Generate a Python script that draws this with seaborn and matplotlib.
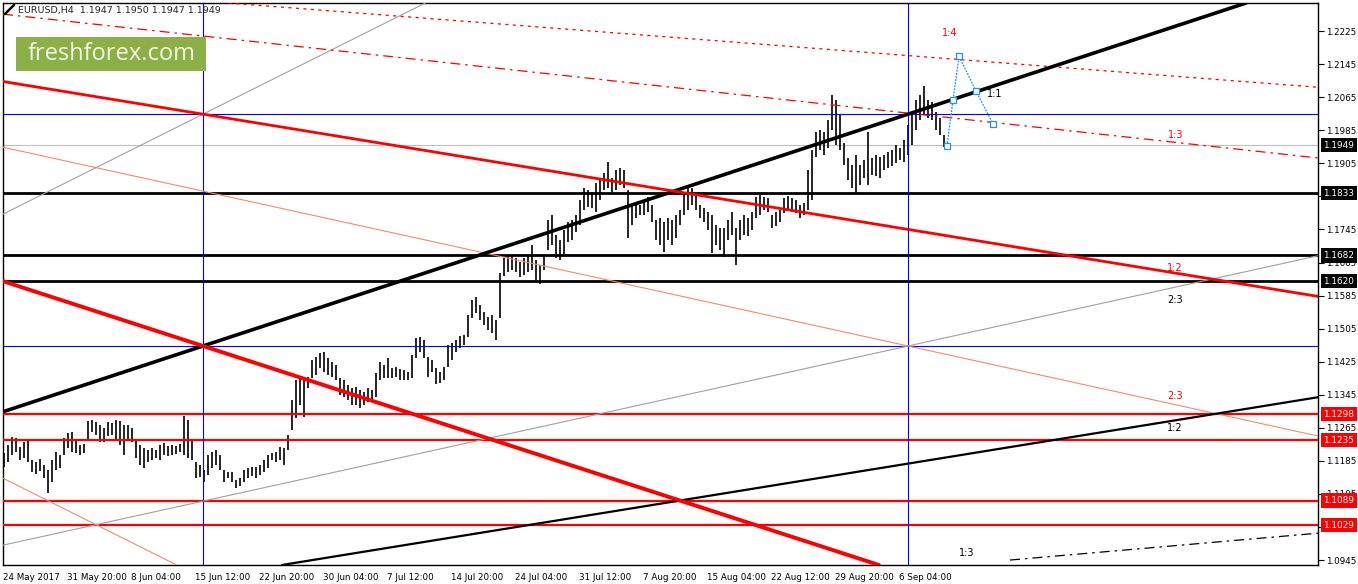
import numpy as np
import pandas as pd
import seaborn as sns
import matplotlib.pyplot as plt
import matplotlib.transforms as mtransforms
from matplotlib.patches import Rectangle
from matplotlib.lines import Line2D

# EURUSD H4, je zwei Kerzen zu einem Balken zusammengefasst
high = [
    1.1204, 1.1223, 1.1242, 1.1240, 1.1218, 1.1230, 1.1235, 1.1187, 1.1182, 1.1189,
    1.1175, 1.1163, 1.1187, 1.1206, 1.1199, 1.1240, 1.1252, 1.1255, 1.1235, 1.1223,
    1.1226, 1.1281, 1.1284, 1.1279, 1.1272, 1.1264, 1.1279, 1.1276, 1.1284, 1.1281,
    1.1272, 1.1272, 1.1264, 1.1235, 1.1223, 1.1216, 1.1211, 1.1216, 1.1211, 1.1223,
    1.1228, 1.1221, 1.1223, 1.1221, 1.1226, 1.1293, 1.1284, 1.1235, 1.1182, 1.1175,
    1.1163, 1.1199, 1.1206, 1.1211, 1.1199, 1.1163, 1.1158, 1.1158, 1.1138, 1.1143,
    1.1163, 1.1167, 1.1170, 1.1170, 1.1175, 1.1187, 1.1199, 1.1204, 1.1206, 1.1218,
    1.1216, 1.1247, 1.1332, 1.1380, 1.1388, 1.1388, 1.1388, 1.1429, 1.1436, 1.1446,
    1.1448, 1.1434, 1.1424, 1.1417, 1.1385, 1.1380, 1.1368, 1.1361, 1.1363, 1.1356,
    1.1351, 1.1361, 1.1356, 1.1397, 1.1424, 1.1417, 1.1434, 1.1409, 1.1412, 1.1407,
    1.1405, 1.1400, 1.1441, 1.1482, 1.1484, 1.1477, 1.1436, 1.1429, 1.1409, 1.1400,
    1.1412, 1.1465, 1.1470, 1.1477, 1.1487, 1.1489, 1.1538, 1.1574, 1.1581, 1.1562,
    1.1545, 1.1533, 1.1538, 1.1526, 1.1639, 1.1676, 1.1680, 1.1680, 1.1676, 1.1666,
    1.1676, 1.1680, 1.1707, 1.1671, 1.1659, 1.1683, 1.1768, 1.1780, 1.1731, 1.1719,
    1.1743, 1.1763, 1.1768, 1.1780, 1.1816, 1.1845, 1.1840, 1.1835, 1.1857, 1.1864,
    1.1881, 1.1908, 1.1869, 1.1889, 1.1893, 1.1889, 1.1840, 1.1804, 1.1809, 1.1804,
    1.1816, 1.1823, 1.1804, 1.1768, 1.1772, 1.1763, 1.1772, 1.1768, 1.1780, 1.1792,
    1.1828, 1.1852, 1.1845, 1.1828, 1.1804, 1.1797, 1.1787, 1.1780, 1.1756, 1.1748,
    1.1748, 1.1768, 1.1787, 1.1748, 1.1768, 1.1780, 1.1772, 1.1787, 1.1823, 1.1828,
    1.1823, 1.1821, 1.1780, 1.1787, 1.1792, 1.1821, 1.1826, 1.1821, 1.1816, 1.1804,
    1.1809, 1.1889, 1.1937, 1.1981, 1.1985, 1.1981, 1.2010, 1.2070, 1.2058, 1.2022,
    1.1954, 1.1918, 1.1901, 1.1925, 1.1901, 1.1913, 1.1981, 1.1918, 1.1925, 1.1920,
    1.1925, 1.1932, 1.1937, 1.1949, 1.1942, 1.1961, 1.1998, 1.2022, 1.2058, 1.2070,
    1.2092, 1.2058, 1.2053, 1.2029, 1.2014, 1.1973]
low = [
    1.1170, 1.1182, 1.1199, 1.1206, 1.1187, 1.1192, 1.1182, 1.1158, 1.1153, 1.1160,
    1.1143, 1.1107, 1.1134, 1.1163, 1.1167, 1.1199, 1.1216, 1.1206, 1.1204, 1.1199,
    1.1204, 1.1235, 1.1255, 1.1247, 1.1230, 1.1230, 1.1245, 1.1247, 1.1235, 1.1223,
    1.1199, 1.1235, 1.1230, 1.1192, 1.1175, 1.1167, 1.1182, 1.1187, 1.1192, 1.1187,
    1.1199, 1.1196, 1.1199, 1.1201, 1.1206, 1.1199, 1.1192, 1.1187, 1.1143, 1.1146,
    1.1134, 1.1151, 1.1167, 1.1175, 1.1163, 1.1134, 1.1143, 1.1134, 1.1119, 1.1124,
    1.1134, 1.1143, 1.1148, 1.1143, 1.1151, 1.1158, 1.1167, 1.1187, 1.1182, 1.1187,
    1.1175, 1.1211, 1.1259, 1.1288, 1.1320, 1.1291, 1.1361, 1.1385, 1.1393, 1.1409,
    1.1400, 1.1393, 1.1388, 1.1380, 1.1344, 1.1339, 1.1332, 1.1320, 1.1320, 1.1313,
    1.1320, 1.1327, 1.1332, 1.1339, 1.1380, 1.1385, 1.1385, 1.1385, 1.1388, 1.1380,
    1.1380, 1.1380, 1.1385, 1.1434, 1.1448, 1.1434, 1.1388, 1.1400, 1.1371, 1.1373,
    1.1380, 1.1412, 1.1429, 1.1448, 1.1458, 1.1465, 1.1484, 1.1530, 1.1543, 1.1526,
    1.1513, 1.1501, 1.1494, 1.1477, 1.1530, 1.1632, 1.1642, 1.1647, 1.1642, 1.1630,
    1.1635, 1.1642, 1.1647, 1.1618, 1.1613, 1.1647, 1.1695, 1.1707, 1.1676, 1.1671,
    1.1683, 1.1714, 1.1719, 1.1739, 1.1756, 1.1792, 1.1799, 1.1797, 1.1787, 1.1816,
    1.1840, 1.1845, 1.1835, 1.1840, 1.1852, 1.1845, 1.1724, 1.1756, 1.1772, 1.1780,
    1.1780, 1.1787, 1.1763, 1.1719, 1.1707, 1.1690, 1.1719, 1.1707, 1.1724, 1.1756,
    1.1780, 1.1792, 1.1804, 1.1792, 1.1772, 1.1763, 1.1743, 1.1688, 1.1707, 1.1695,
    1.1678, 1.1719, 1.1731, 1.1659, 1.1719, 1.1731, 1.1729, 1.1743, 1.1772, 1.1780,
    1.1792, 1.1787, 1.1748, 1.1753, 1.1763, 1.1785, 1.1792, 1.1787, 1.1785, 1.1772,
    1.1780, 1.1792, 1.1816, 1.1920, 1.1937, 1.1925, 1.1942, 1.1985, 1.1949, 1.1937,
    1.1901, 1.1864, 1.1845, 1.1833, 1.1852, 1.1869, 1.1852, 1.1877, 1.1874, 1.1869,
    1.1889, 1.1893, 1.1898, 1.1906, 1.1913, 1.1908, 1.1925, 1.1949, 1.1985, 1.2010,
    1.2022, 1.2014, 1.2010, 1.1985, 1.1973, 1.1944]

tick_labels = ['24 May 2017', '31 May 20:00', '8 Jun 04:00', '15 Jun 12:00',
               '22 Jun 20:00', '30 Jun 04:00', '7 Jul 12:00', '14 Jul 20:00',
               '24 Jul 04:00', '31 Jul 12:00', '7 Aug 20:00', '15 Aug 04:00',
               '22 Aug 12:00', '29 Aug 20:00', '6 Sep 04:00']

black_levels = [1.1833, 1.1682, 1.1620]
red_levels = [1.1298, 1.1235, 1.1089, 1.1029]
blue_levels = [1.2024, 1.1463]
blue_times = [49.75, 226]
last_price = 1.1949
ohlc_text = 'EURUSD,H4  1.1947 1.1950 1.1947 1.1949'

# Trendlinien: zwei Punkte (Balken, Kurs)
black_trend = [(49.75, 1.1463), (226, 1.2024)]
black_trend2 = [(169, 1.1089), (328.5, 1.1339)]
red_trend = [(49.75, 1.2024), (328.5, 1.1583)]
red_trend2 = [(49.75, 1.1463), (169, 1.1089)]
salmon_trend = [(-0.25, 1.1944), (226, 1.1463)]
salmon_trend2 = [(-0.25, 1.1143), (42.75, 1.0935)]
gray_trend = [(-0.25, 1.1782), (49.75, 1.2024)]
gray_trend2 = [(-0.25, 1.0981), (226, 1.1463)]
red_dot_trend = [(199, 1.2186), (328.5, 1.2089)]
red_dashdot_trend = [(-0.25, 1.2266), (328.5, 1.1918)]
black_dashdot_seg = [(251.5, 1.0945), (328.5, 1.1010)]

# Muster (blau)
pattern_x = [235.75, 237.25, 238.75, 243.0, 247.25]
pattern_y = [1.1947, 1.2058, 1.2164, 1.2080, 1.2000]

# Fibo-Beschriftungen
fib_texts = [('1:4', 236.5, 1.2220, 'red'), ('1:1', 247.75, 1.2073, 'black'),
             ('1:3', 293, 1.1973, 'red'), ('1:2', 292.75, 1.1651, 'red'),
             ('2:3', 292.75, 1.1574, 'black'), ('2:3', 292.75, 1.1342, 'red'),
             ('1:2', 292.75, 1.1264, 'black'), ('1:3', 240.75, 1.0962, 'black')]

sns.set_style('white')
plt.rcParams['font.family'] = ['DejaVu Sans']

W, H = 1358, 584
fig = plt.figure(figsize=(W / 100, H / 100), dpi=100)
ax = fig.add_axes([3 / W, 19 / H, 1315 / W, 562 / H])
ax.set_xlim(-0.25, 328.5)
ax.set_ylim(1.0933, 1.2293)

df = pd.DataFrame({'bar': np.arange(len(high)), 'high': high, 'low': low})
ax.vlines(df['bar'], df['low'], df['high'], color='black', lw=1.2, zorder=2)

for lvl in black_levels:
    ax.axhline(lvl, color='black', lw=2.0, zorder=3)
for lvl in red_levels:
    ax.axhline(lvl, color='red', lw=1.6, zorder=3)
for lvl in blue_levels:
    ax.axhline(lvl, color='blue', lw=0.8, zorder=3)
for t in blue_times:
    ax.axvline(t, color='blue', lw=0.8, zorder=3)
ax.axhline(last_price, color='#c0c0c0', lw=0.8, zorder=1)

ax.axline(*black_trend, color='black', lw=2.6, zorder=4)
ax.axline(*black_trend2, color='black', lw=1.6, zorder=4)
ax.axline(*red_trend, color='red', lw=2.0, zorder=4)
ax.axline(*red_trend2, color='red', lw=2.8, zorder=4)
ax.axline(*salmon_trend, color='#f58a6e', lw=0.8, zorder=3)
ax.axline(*salmon_trend2, color='#f58a6e', lw=0.8, zorder=3)
ax.axline(*gray_trend, color='#a0a0a0', lw=0.8, zorder=3)
ax.axline(*gray_trend2, color='#a0a0a0', lw=0.8, zorder=3)
ax.axline(*red_dot_trend, color='red', lw=0.9, ls=(0, (2.5, 3.5)), zorder=3)
ax.axline(*red_dashdot_trend, color='red', lw=0.9, ls=(0, (8, 4, 2, 4)), zorder=3)
(x0, y0), (x1, y1) = black_dashdot_seg
ax.plot([x0, x1], [y0, y1], color='black', lw=0.9, ls=(0, (8, 4, 2, 4)), zorder=3)

sns.lineplot(x=pattern_x, y=pattern_y, ax=ax, color='#1e90ff', lw=0.9, ls=(0, (1.5, 1)),
             sort=False, estimator=None, zorder=5)
ax.plot(pattern_x, pattern_y, ls='none', marker='s', ms=4, mfc='white', mec='#1e90ff',
        mew=0.9, zorder=6)

for txt, bx, py, col in fib_texts:
    ax.text(bx, py, txt, color=col, fontsize=7, ha='center', va='center', zorder=7)

# Achsen
for sp in ax.spines.values():
    sp.set_color('black')
    sp.set_linewidth(1.0)
ax.yaxis.tick_right()
yt = np.arange(1.0945, 1.2226, 0.0080)
ax.set_yticks(yt)
ax.set_yticklabels([f'{v:.4f}' for v in yt])
ax.set_xticks([-0.25 + 16 * k for k in range(len(tick_labels))])
ax.set_xticklabels(tick_labels, ha='left')
ax.tick_params(axis='both', direction='out', length=4, width=0.8, labelsize=6.3,
               colors='black', pad=2)
ax.tick_params(axis='y', pad=2)
ax.set_xlabel('')
ax.set_ylabel('')

trans = mtransforms.blended_transform_factory(ax.transAxes, ax.transData)
for lvl, fc in [(last_price, 'black')] + [(v, 'black') for v in black_levels] + \
        [(v, 'red') for v in red_levels]:
    ax.text(1.004, lvl, f'{lvl:.4f}', transform=trans, ha='left', va='center',
            color='white', fontsize=6.4, clip_on=False, zorder=10,
            bbox=dict(boxstyle='square,pad=0.3', fc=fc, ec='none'))

# Kopfzeile und Logo
fig.text(18 / W, 1 - 10 / H, ohlc_text, fontsize=6.8, va='center', ha='left')
fig.lines.append(Line2D([5 / W, 14 / W], [1 - 14 / H, 1 - 5 / H], transform=fig.transFigure,
                        color='black', lw=1.8))
fig.patches.append(Rectangle((16 / W, 1 - 71 / H), 190 / W, 34 / H,
                             transform=fig.transFigure, fc='#8db046', ec='none', zorder=8))
fig.text(112 / W, 1 - 54 / H, 'freshforex.com', fontsize=17, family='Open Sans',
         color='#f2f5e6', ha='center', va='center', zorder=9)

fig.savefig('out.png', dpi=100)
